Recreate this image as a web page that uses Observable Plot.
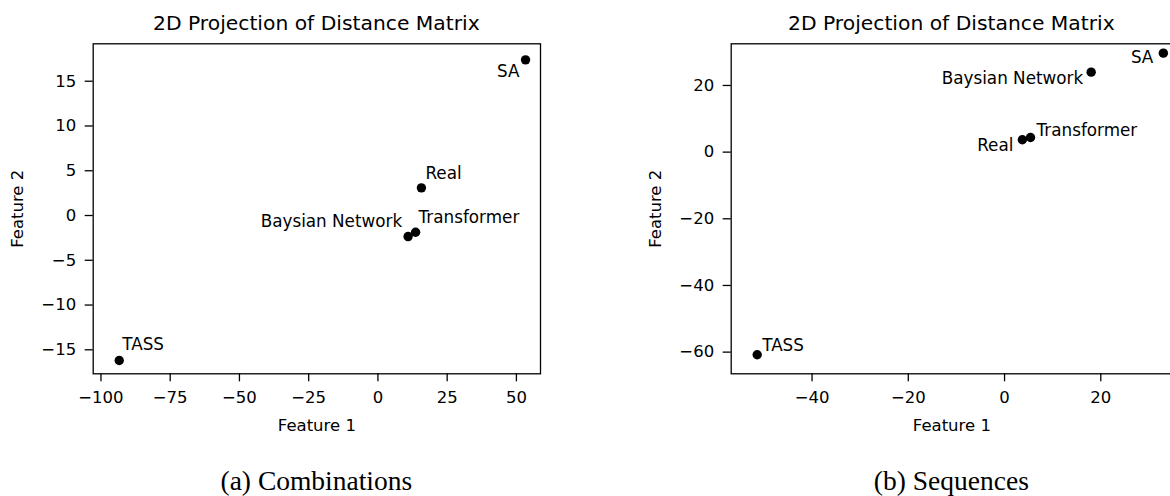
<!DOCTYPE html>
<html>
<head>
<meta charset="utf-8">
<script src="https://cdn.jsdelivr.net/npm/d3@7"></script>
<script src="https://cdn.jsdelivr.net/npm/@observablehq/plot@0.6"></script>
<style>
  html, body { margin: 0; padding: 0; background: #fff; overflow: hidden; }
  #fig { position: relative; width: 1170px; height: 496px; overflow: hidden; background: #fff; }
  .panel { position: absolute; top: 0; }
  .panel svg { max-width: none !important; }
  .title { position: absolute; font-family: "DejaVu Sans", sans-serif; font-size: 20.3px; color: #000; white-space: nowrap; transform: translate(-50%, -50%); }
  .caption { position: absolute; font-family: "Liberation Serif", "Times New Roman", serif; font-size: 27.5px; color: #000; white-space: nowrap; transform: translate(-50%, -50%); }
</style>
</head>
<body>
<div id="fig"></div>
<script>
// ---- data ----
const names = ["Real", "Transformer", "Baysian Network", "SA", "TASS"];

// (a) Combinations
const combX = [15.7, 13.6, 10.9, 53.3, -93.4];
const combY = [3.09, -1.87, -2.35, 17.39, -16.2];
const combXTicks = [-100, -75, -50, -25, 0, 25, 50];
const combYTicks = [-15, -10, -5, 0, 5, 10, 15];

// (b) Sequences
const seqX = [3.7, 5.4, 18.0, 33.0, -51.4];
const seqY = [3.7, 4.4, 24.0, 29.7, -60.8];
const seqXTicks = [-40, -20, 0, 20];
const seqYTicks = [-60, -40, -20, 0, 20];

const titleText = "2D Projection of Distance Matrix";
const xLabel = "Feature 1";
const yLabel = "Feature 2";
const captions = ["(a) Combinations", "(b) Sequences"];

// ---- layout / style config ----
const panels = [
  {
    xs: combX, ys: combY, xTicks: combXTicks, yTicks: combYTicks,
    left: 0, width: 585, marginLeft: 92.7, marginRight: 45,
    xDomain: [-102.8, 58.7], yDomain: [-17.68, 19.18],
    labels: {
      "SA": {anchor: "end", dx: -6, dy: 12},
      "Real": {anchor: "start", dx: 4, dy: -14},
      "Transformer": {anchor: "start", dx: 3, dy: -15},
      "Baysian Network": {anchor: "end", dx: -6, dy: -15},
      "TASS": {anchor: "start", dx: 3, dy: -16}
    },
    caption: captions[0]
  },
  {
    xs: seqX, ys: seqY, xTicks: seqXTicks, yTicks: seqYTicks,
    left: 585, width: 632, marginLeft: 145.7, marginRight: 45,
    xDomain: [-56.8, 34.9], yDomain: [-66.5, 32.5],
    labels: {
      "SA": {anchor: "end", dx: -10, dy: 4},
      "Real": {anchor: "end", dx: -9, dy: 6},
      "Transformer": {anchor: "start", dx: 6, dy: -7},
      "Baysian Network": {anchor: "end", dx: -8, dy: 6},
      "TASS": {anchor: "start", dx: 5, dy: -9}
    },
    caption: captions[1]
  }
];

const H = 440, MT = 43.3, MB = H - 373.3;
const fmt = d3.format("d");
const fig = document.getElementById("fig");

panels.forEach(p => {
  const data = names.map((n, i) => ({name: n, x: p.xs[i], y: p.ys[i]}));
  const labelMarks = names.map(n => {
    const o = p.labels[n];
    return Plot.text(data.filter(d => d.name === n), {
      x: "x", y: "y", text: "name", textAnchor: o.anchor, dx: o.dx, dy: o.dy,
      fill: "black", fontSize: 16.8
    });
  });
  const chart = Plot.plot({
    width: p.width, height: H,
    marginLeft: p.marginLeft, marginRight: p.marginRight, marginTop: MT, marginBottom: MB,
    style: {fontFamily: "'DejaVu Sans', sans-serif", fontSize: "16.5px", color: "black", background: "white", overflow: "visible", maxWidth: "none"},
    x: {domain: p.xDomain},
    y: {domain: p.yDomain},
    marks: [
      Plot.axisX({ticks: p.xTicks, tickFormat: fmt, tickSize: 8, tickPadding: 9, strokeWidth: 1.3,
        label: xLabel, labelArrow: "none", labelAnchor: "center", labelOffset: 57}),
      Plot.axisY({ticks: p.yTicks, tickFormat: fmt, tickSize: 8, tickPadding: 9, strokeWidth: 1.3,
        label: yLabel, labelArrow: "none", labelAnchor: "center", labelOffset: 82}),
      Plot.frame({stroke: "black", strokeWidth: 1.3}),
      Plot.dot(data, {x: "x", y: "y", r: 4.7, fill: "black"}),
      ...labelMarks
    ]
  });
  const wrap = document.createElement("div");
  wrap.className = "panel";
  wrap.style.left = p.left + "px";
  wrap.style.width = p.width + "px";
  wrap.appendChild(chart);
  fig.appendChild(wrap);

  const cx = p.left + p.marginLeft + (p.width - p.marginLeft - p.marginRight) / 2;
  const t = document.createElement("div");
  t.className = "title";
  t.textContent = titleText;
  t.style.left = cx + "px";
  t.style.top = "22.7px";
  fig.appendChild(t);

  const c = document.createElement("div");
  c.className = "caption";
  c.textContent = p.caption;
  c.style.left = cx + "px";
  c.style.top = "481px";
  fig.appendChild(c);
});
</script>
</body>
</html>
